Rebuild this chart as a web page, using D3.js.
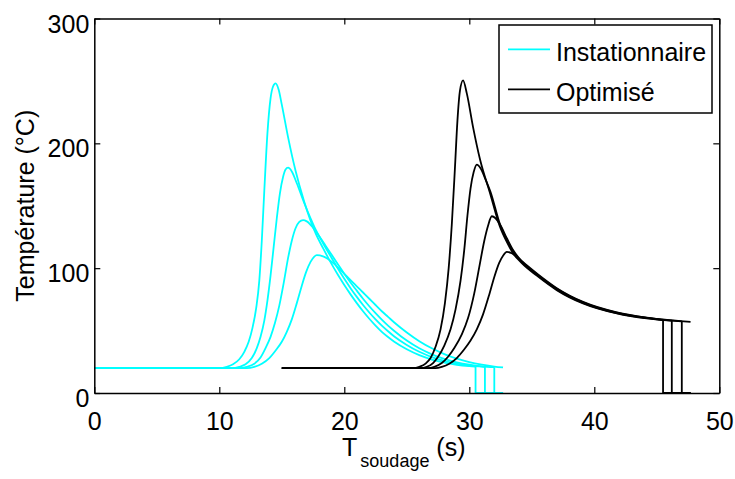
<!DOCTYPE html>
<html><head><meta charset="utf-8">
<script src="https://cdn.jsdelivr.net/npm/d3@7"></script>
<style>body{margin:0;background:#fff}</style>
</head><body><svg id="c" width="735" height="479"></svg>
<script>
// ---- data (time in s, temperature in °C) ----
const xTicks=[0,10,20,30,40,50];
const yTicks=[0,100,200,300];
const legendLabels=["Instationnaire","Optimisé"];

const inst1T=[0,10.0,10.6,11.1,11.6,12.0,12.35,12.65,12.95,13.2,13.4,13.6,13.85,14.1,14.3,14.5,14.75,15.0,15.5,16.1,16.8,17.3,17.7,18.3,19.0,19.5,20.0,20.5,21.0,21.5,22.0,22.5,23.0,23.5,24.0,25.0,26.0,27.0,28.0,29.0,30.0,30.5,30.5,32.7];
const inst1V=[20,20,21,23,27,33,41,52,68,90,122,162,208,236,245.5,248,243,231,205,178,153,138,128,116,103,94.5,86.5,79,72,65.5,59.5,54,49,44.8,41,35,30.3,26.8,24.3,22.6,21.5,21.1,0,0];
const inst2T=[0,11.0,11.6,12.1,12.6,13.0,13.3,13.6,13.85,14.1,14.35,14.6,14.85,15.1,15.3,15.5,15.8,16.2,16.8,17.3,17.7,18.3,19.0,19.5,20.0,20.5,21.0,21.5,22.0,22.5,23.0,23.5,24.0,25.0,26.0,27.0,28.0,29.0,30.0,31.0,31.25,31.25,32.7];
const inst2V=[20,20,21,23,28,36,45,58,74,94,117,140,160,173,179,180.5,177.5,168,152,140,131,120,108,99.5,91.5,84,77,70.5,64.5,59,54,49.5,45.3,38.5,33,28.8,25.7,23.5,22,21.1,20.9,0,0];
const inst3T=[0,11.6,12.2,12.8,13.3,13.7,14.1,14.45,14.8,15.15,15.5,15.8,16.1,16.4,16.7,17.0,17.5,18.0,18.5,19.0,19.5,20.0,20.5,21.0,21.5,22.0,22.5,23.0,23.5,24.0,25.0,26.0,27.0,28.0,29.0,30.0,31.0,32.0,32.0,32.7];
const inst3V=[20,20,21,23.5,28.5,36,45,56,70,88,108,122,132,137,138.5,137.5,132.5,125.5,118,110.5,103,95.5,88.5,82,75.5,69.5,64,58.8,54,49.7,42,35.8,31,27.3,24.6,22.7,21.4,20.7,0,0];
const inst4T=[0,12.2,12.8,13.4,14.0,14.5,15.0,15.4,15.8,16.2,16.6,16.95,17.3,17.6,17.8,18.3,18.6,19.0,19.5,20.0,20.5,21.0,21.5,22.0,22.5,23.0,23.5,24.0,25.0,26.0,27.0,28.0,29.0,30.0,31.0,32.0,32.7];
const inst4V=[20,20,21,23.5,28,34,41,49,59,72,86,97,105,109.3,110.4,109.5,108,105,100.5,95.5,90.5,85.5,80.5,75.5,70.5,65.5,61,56.5,48.5,41.5,35.8,31.2,27.5,24.7,22.7,21.2,20.5];

const opt1T=[15,25.5,26.0,26.5,26.9,27.3,27.7,28.05,28.35,28.6,28.85,29.05,29.25,29.5,29.8,30.3,30.86,31.66,32.46,33.0,33.5,34.2,35.4,37.0,39.1,41.8,44.2,45.5,45.5,47.7];
const opt1V=[20,20,21,23.5,28,37,51,72,100,135,180,218,242,250.4,240,213,187,160,133,121,112,104,94,82.4,71.7,63.7,59.7,58.4,0,0];
const opt2T=[15,26.1,26.6,27.1,27.5,28.0,28.5,28.9,29.3,29.6,29.85,30.1,30.35,30.6,30.9,31.26,31.7,32.46,33.0,33.5,34.2,35.4,37.0,39.1,41.8,44.2,46.2,46.2,47.7];
const opt2V=[20,20,21,24,29,38,51,67,90,115,142,164,177,183,180,172,161,135,123,113.5,105,94.8,83,72.2,64,60,57.9,0,0];
const opt3T=[15,26.7,27.2,27.8,28.3,28.8,29.4,29.9,30.4,30.8,31.2,31.5,31.8,32.1,32.46,33.0,33.5,34.2,35.4,37.0,39.1,41.8,44.2,47.0,47.0,47.7];
const opt3V=[20,20,21,24,29,36,47,60,80,101,122,134,141.6,140,135,124,114.5,105.5,95.2,83.5,72.6,64.3,60.2,57.3,0,0];
const opt4T=[15,27.3,27.8,28.4,29.0,29.6,30.1,30.6,31.1,31.6,32.0,32.4,32.7,33.0,33.4,33.8,34.4,35.4,37.0,39.1,41.8,44.2,46.0,47.7];
const opt4V=[20,20,21,23.5,28,35,42,51,63,79,93,104.5,110,113,112,109,104,95.8,84,73,64.6,60.4,58.4,57];

// ---- styles / layout ----
const CYAN="#00ffff", BLACK="#000000";
const FONT="'Liberation Sans', Arial, sans-serif";
const L=94.3,R=719.3,T=18.5,B=393;

const svg=d3.select("#c");
const x=d3.scaleLinear().domain([0,50]).range([L,R]);
const y=d3.scaleLinear().domain([0,300]).range([B,T]);

const series=[
  {t:inst1T,v:inst1V,c:CYAN},{t:inst2T,v:inst2V,c:CYAN},{t:inst3T,v:inst3V,c:CYAN},{t:inst4T,v:inst4V,c:CYAN},
  {t:opt1T,v:opt1V,c:BLACK},{t:opt2T,v:opt2V,c:BLACK},{t:opt3T,v:opt3V,c:BLACK},{t:opt4T,v:opt4V,c:BLACK}
];
const smooth=d3.line().x(d=>x(d[0])).y(d=>y(d[1])).curve(d3.curveMonotoneX);
const straight=d3.line().x(d=>x(d[0])).y(d=>y(d[1]));

series.forEach(s=>{
  const pts=s.t.map((t,i)=>[t,s.v[i]]);
  let k=pts.length;
  for(let i=1;i<pts.length;i++){ if(pts[i][0]===pts[i-1][0]){k=i;break;} }
  svg.append("path").attr("d",smooth(pts.slice(0,k))).attr("fill","none")
     .attr("stroke",s.c).attr("stroke-width",1.8).attr("stroke-linejoin","round");
  if(k<pts.length){
    svg.append("path").attr("d",straight(pts.slice(k-1))).attr("fill","none")
       .attr("stroke",s.c).attr("stroke-width",1.8);
  }
});

// axes (box with inward ticks)
function styleAxis(g){
  g.select(".domain").attr("stroke","#000").attr("stroke-width",1.5);
  g.selectAll(".tick line").attr("stroke","#000").attr("stroke-width",1.2);
  g.selectAll("text").attr("font-family",FONT).attr("font-size",25).attr("fill","#000");
}
const gx=svg.append("g").attr("transform",`translate(0,${B})`)
  .call(d3.axisBottom(x).tickValues(xTicks).tickFormat(d3.format("d")).tickSizeInner(-6).tickSizeOuter(0).tickPadding(19));
styleAxis(gx);
const gy=svg.append("g").attr("transform",`translate(${L},0)`)
  .call(d3.axisLeft(y).tickValues(yTicks).tickFormat(d3.format("d")).tickSizeInner(-6).tickSizeOuter(0).tickPadding(5));
styleAxis(gy);
gy.selectAll("text").attr("dy","0.54em");
const gt=svg.append("g").attr("transform",`translate(0,${T})`)
  .call(d3.axisTop(x).tickValues(xTicks).tickFormat("").tickSizeInner(-6).tickSizeOuter(0));
styleAxis(gt);
const gr=svg.append("g").attr("transform",`translate(${R},0)`)
  .call(d3.axisRight(y).tickValues(yTicks).tickFormat("").tickSizeInner(-6).tickSizeOuter(0));
styleAxis(gr);

// axis titles
svg.append("text").attr("transform",`translate(33.5,${(T+B)/2}) rotate(-90)`)
  .attr("text-anchor","middle").attr("font-family",FONT).attr("font-size",25).text("Température (°C)");
const xl=svg.append("text").attr("x",(L+R)/2-3).attr("y",456).attr("text-anchor","middle")
  .attr("font-family",FONT).attr("font-size",25);
xl.append("tspan").text("T");
xl.append("tspan").attr("font-size",18).attr("dx",3).attr("dy",11).text("soudage");
xl.append("tspan").attr("dy",-11).text("\u00a0(s)");

// legend
const lg=svg.append("g");
lg.append("rect").attr("x",499).attr("y",25).attr("width",213).attr("height",88)
  .attr("fill","#fff").attr("stroke","#000").attr("stroke-width",1.5);
const legendColors=[CYAN,BLACK];
legendLabels.forEach((lab,i)=>{
  const yy=49.3+i*40;
  lg.append("line").attr("x1",508).attr("x2",550).attr("y1",yy).attr("y2",yy)
    .attr("stroke",legendColors[i]).attr("stroke-width",1.8);
  lg.append("text").attr("x",556).attr("y",yy+11.5).attr("font-family",FONT)
    .attr("font-size",25).text(lab);
});
</script></body></html>
